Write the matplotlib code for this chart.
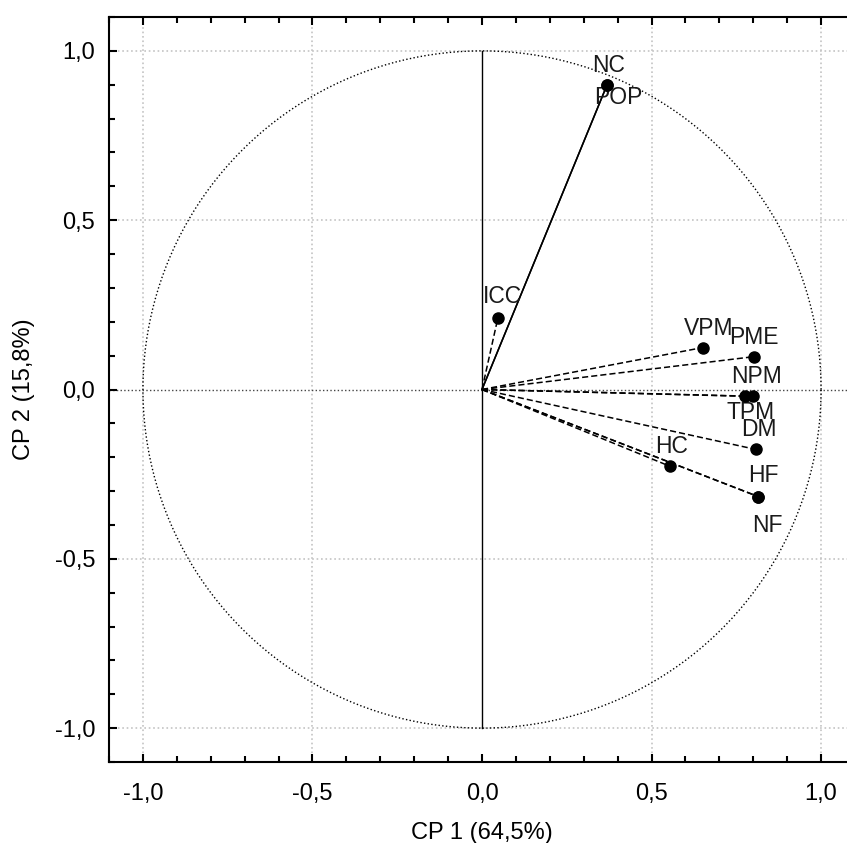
import numpy as np
import matplotlib
matplotlib.use('Agg')
import matplotlib.pyplot as plt
from matplotlib.ticker import MultipleLocator, FuncFormatter

plt.rcParams['font.family'] = ['Liberation Sans', 'DejaVu Sans']

# loadings
labels = ['NC', 'POP', 'ICC', 'VPM', 'PME', 'NPM', 'TPM', 'DM', 'HC', 'HF', 'NF']
cp1 = [0.369, 0.369, 0.047, 0.652, 0.802, 0.800, 0.776, 0.808, 0.555, 0.814, 0.814]
cp2 = [0.900, 0.900, 0.212, 0.124, 0.097, -0.020, -0.020, -0.177, -0.227, -0.316, -0.316]
# label offsets in points (dx, dy)
offsets = [(1, 14), (8, -9), (3, 15), (4, 14), (0, 14), (2, 14), (4, -12), (2, 14), (1, 14), (4, 15), (7, -21)]
line_styles = ['-', '-', '--', '--', '--', '--', '--', '--', '--', '--', '--']

fig = plt.figure(figsize=(8.47, 8.43), dpi=100)
ax = fig.add_axes([109 / 847, 81 / 843, 746 / 847, 745 / 843])
ax.set_xlim(-1.1, 1.1)
ax.set_ylim(-1.1, 1.1)

# grid
for v in [-1.0, -0.5, 0.5, 1.0]:
    ax.axvline(v, color='#c4c4c4', lw=1.2, ls=':', zorder=0)
    ax.axhline(v, color='#c4c4c4', lw=1.2, ls=':', zorder=0)
ax.axhline(0, color='#444444', lw=1.0, ls=':', zorder=1)
ax.plot([0, 0], [-1, 1], color='black', lw=1.0, zorder=2)

# unit circle
t = np.linspace(0, 2 * np.pi, 400)
ax.plot(np.cos(t), np.sin(t), color='black', lw=1.0, ls=':', zorder=2)

for lab, x, y, off, ls in zip(labels, cp1, cp2, offsets, line_styles):
    if ls == '--':
        ax.plot([0, x], [0, y], color='black', lw=1.1, ls='--', dashes=(4, 2), zorder=3)
    else:
        ax.plot([0, x], [0, y], color='black', lw=1.1, zorder=3)
    ax.plot(x, y, 'o', color='black', ms=8, zorder=4)
    ax.annotate(lab, (x, y), xytext=off, textcoords='offset points',
                ha='center', va='center', fontsize=16.5, color='#1a1a1a')

fmt = FuncFormatter(lambda v, p: ('%.1f' % v).replace('.', ',').replace('-0,0', '0,0'))
ax.xaxis.set_major_locator(MultipleLocator(0.5))
ax.yaxis.set_major_locator(MultipleLocator(0.5))
ax.xaxis.set_minor_locator(MultipleLocator(0.1))
ax.yaxis.set_minor_locator(MultipleLocator(0.1))
ax.xaxis.set_major_formatter(fmt)
ax.yaxis.set_major_formatter(fmt)
ax.tick_params(which='both', direction='in', top=True, right=False, labelsize=17, width=1.5, colors='black')
ax.tick_params(which='major', length=6)
ax.tick_params(axis='x', which='major', pad=15)
ax.tick_params(axis='y', which='major', pad=10)
ax.tick_params(which='minor', length=4)
ax.spines['right'].set_visible(False)
for s in ['left', 'bottom', 'top']:
    ax.spines[s].set_linewidth(1.5)

ax.set_xlabel('CP 1 (64,5%)', fontsize=17, labelpad=12)
ax.set_ylabel('CP 2 (15,8%)', fontsize=17, labelpad=14)

fig.savefig('out.png', dpi=100)
